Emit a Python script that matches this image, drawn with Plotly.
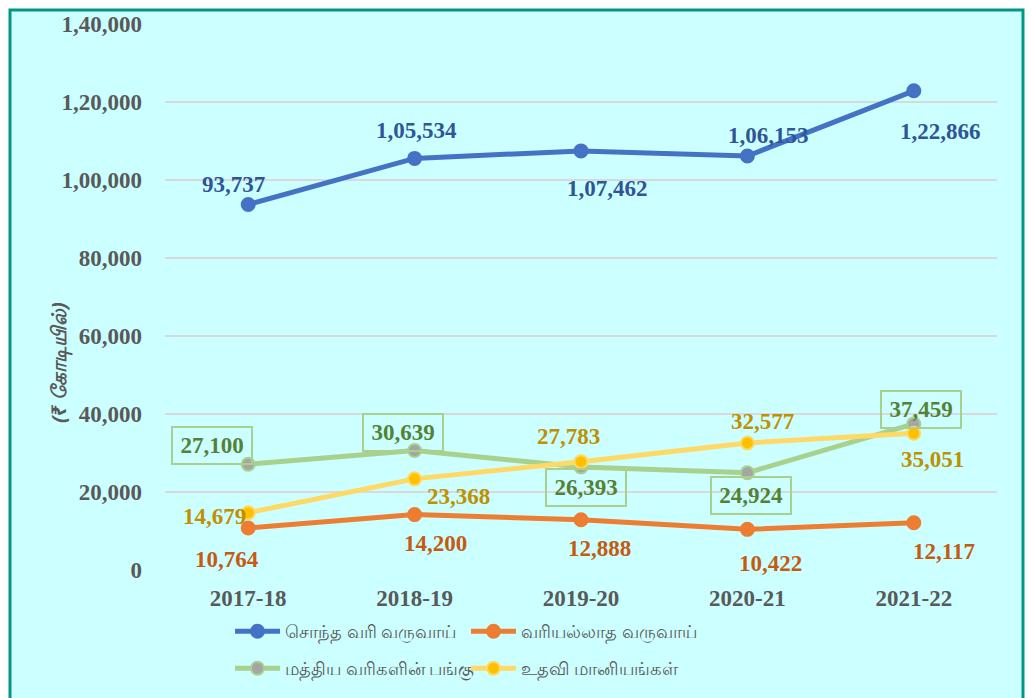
import plotly.graph_objects as go

years = ["2017-18", "2018-19", "2019-20", "2020-21", "2021-22"]
own_tax = [93737, 105534, 107462, 106153, 122866]
non_tax = [10764, 14200, 12888, 10422, 12117]
central_share = [27100, 30639, 26393, 24924, 37459]
grants = [14679, 23368, 27783, 32577, 35051]

series_names = ["சொந்த வரி வருவாய்", "வரியல்லாத வருவாய்", "மத்திய வரிகளின் பங்கு", "உதவி மானியங்கள்"]
y_tickvals = [0, 20000, 40000, 60000, 80000, 100000, 120000, 140000]
y_ticktext = ["0", "20,000", "40,000", "60,000", "80,000", "1,00,000", "1,20,000", "1,40,000"]
y_title = "(₹ கோடியில்)"


def inr(v):
    s = str(int(v))
    if len(s) <= 3:
        return s
    last3, rest = s[-3:], s[:-3]
    groups = []
    while len(rest) > 2:
        groups.insert(0, rest[-2:])
        rest = rest[:-2]
    if rest:
        groups.insert(0, rest)
    return ",".join(groups) + "," + last3


# page body has an 8px margin; work in screen pixels and convert
OFF = 8
W, H = 1033 - OFF, 698 - OFF
PL, PR, PT, PB = 165, 997, 24, 570          # plot area in screen pixels
ML, MR, MT, MB = PL - OFF, W - (PR - OFF), PT - OFF, H - (PB - OFF)
PW, PH = PR - PL, PB - PT

def px_x(p):
    return (p - PL) / PW

def px_y(p):
    return (PB - p) / PH

def cx(p):
    return (p - OFF) / W

def cy(p):
    return 1 - (p - OFF) / H

fig = go.Figure()

styles = [
    dict(line="#4472C4", fill="#4472C4", edge="#4472C4"),
    dict(line="#ED7D31", fill="#ED7D31", edge="#ED7D31"),
    dict(line="#A9D18E", fill="#A5A5A5", edge="#A9D18E"),
    dict(line="#FFD966", fill="#FFC000", edge="#FFD966"),
]
data = [own_tax, non_tax, central_share, grants]
legends = ["legend", "legend", "legend2", "legend2"]

for name, vals, st, lg in zip(series_names, data, styles, legends):
    fig.add_trace(go.Scatter(
        x=years, y=vals, name=name, mode="lines+markers",
        line=dict(color=st["line"], width=5),
        marker=dict(size=13, color=st["fill"], line=dict(color=st["edge"], width=2)),
        legend=lg,
    ))

serif = "Times New Roman, Liberation Serif, serif"
label_colors = ["#2F5597", "#C55A11", "#548235", "#BF9000"]
offsets = [
    [(-15, -20), (2, -28), (26, 38), (21, -21), (27, 41)],
    [(-21, 31), (21, 29), (18, 29), (23, 34), (30, 29)],
    [(-36, -19), (-12, -18), (5, 20), (4, 23), (7, -14)],
    [(-34, 4), (44, 18), (-13, -25), (15, -21), (19, 26)],
]

annotations = []
for si, (vals, col, offs) in enumerate(zip(data, label_colors, offsets)):
    for yr, v, (dx, dy) in zip(years, vals, offs):
        a = dict(x=yr, y=v, xref="x", yref="y", text=inr(v), showarrow=False,
                 xshift=dx, yshift=-dy,
                 font=dict(family=serif, size=23, color=col, weight="bold"))
        if si == 2:
            a.update(bordercolor="#A9D18E", borderwidth=2, borderpad=4,
                     bgcolor="rgba(0,0,0,0)", width=70, height=27)
        annotations.append(a)

annotations.append(dict(
    x=px_x(43), y=px_y(363), xref="paper", yref="paper", text=y_title,
    textangle=-90, showarrow=False,
    font=dict(family="Noto Sans, sans-serif", size=20, color="#595959", style="italic", weight="bold"),
))

legend_font = dict(family="Noto Sans, sans-serif", size=18, color="#595959")
fig.update_layout(
    width=W, height=H,
    margin=dict(l=ML, r=MR, t=MT, b=MB, autoexpand=False),
    paper_bgcolor="white",
    plot_bgcolor="rgba(0,0,0,0)",
    showlegend=True,
    annotations=annotations,
    shapes=[dict(type="rect", xref="paper", yref="paper",
                 x0=px_x(10), x1=px_x(1023), y0=px_y(720), y1=px_y(10),
                 fillcolor="#CCFFFF", line=dict(color="#009688", width=3), layer="below")],
    legend=dict(orientation="h", xref="container", yref="container",
                x=cx(230), y=cy(613), xanchor="left", yanchor="top",
                entrywidth=176, entrywidthmode="pixels", itemwidth=45,
                bgcolor="rgba(0,0,0,0)", font=legend_font),
    legend2=dict(orientation="h", xref="container", yref="container",
                 x=cx(230), y=cy(650), xanchor="left", yanchor="top",
                 entrywidth=176, entrywidthmode="pixels", itemwidth=45,
                 bgcolor="rgba(0,0,0,0)", font=legend_font),
)

fig.update_xaxes(
    range=[-0.5, 4.5], showgrid=False, zeroline=False, showline=False, ticks="",
    automargin=False,
    tickfont=dict(family=serif, size=23, color="#595959", weight="bold"),
    ticklabelstandoff=12,
)
fig.update_yaxes(
    range=[0, 140000], tickvals=y_tickvals, ticktext=y_ticktext,
    showgrid=True, gridcolor="#D9D9D9", gridwidth=2, zeroline=False, showline=False, ticks="",
    automargin=False,
    tickfont=dict(family=serif, size=23, color="#595959", weight="bold"),
    ticklabelstandoff=22,
)

fig.write_html("out.html")
